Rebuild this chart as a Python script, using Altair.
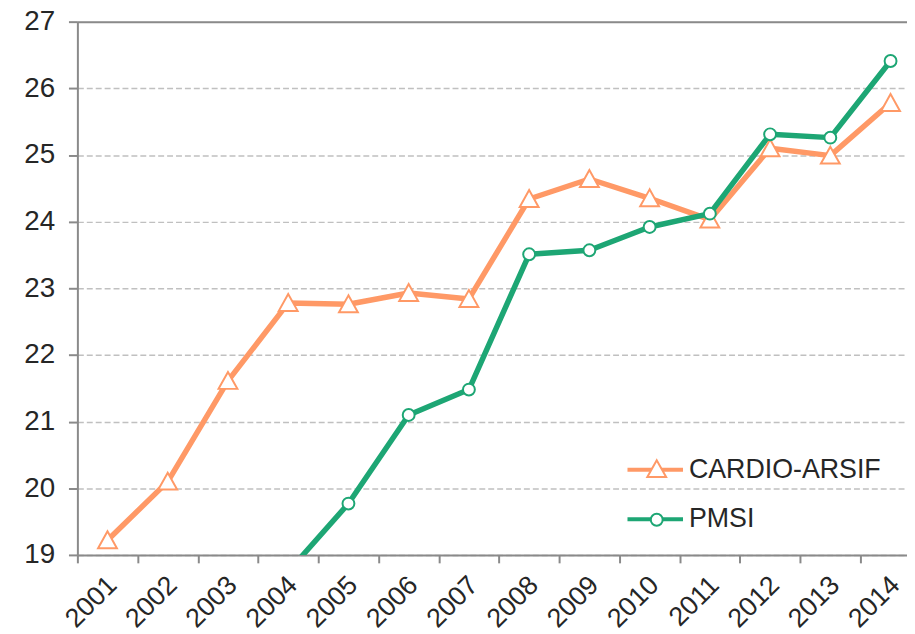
import altair as alt
import pandas as pd

# ---- data ----
years = list(range(2001, 2015))
cardio_values = [19.22, 20.10, 21.61, 22.78, 22.76, 22.93, 22.84, 24.34, 24.64, 24.35, 24.03, 25.10, 24.99, 25.78]
pmsi_years = list(range(2004, 2015))
pmsi_values = [18.75, 19.77, 21.10, 21.48, 23.51, 23.57, 23.92, 24.12, 25.31, 25.26, 26.41]
series_names = ["CARDIO-ARSIF", "PMSI"]
series_colors = ["#FF9966", "#1DA674"]
y_ticks = list(range(19, 28))

rows = []
for yr, v in zip(years, cardio_values):
    rows.append({"series": "CARDIO-ARSIF", "year": yr, "value": v})
for yr, v in zip(pmsi_years, pmsi_values):
    rows.append({"series": "PMSI", "year": yr, "value": v})
df = pd.DataFrame(rows)

FONT = "Liberation Sans"
TEXT = "#262626"
AXIS = "#8a8a8a"

tri_path = "M0,-0.9L-0.95,0.8L0.95,0.8Z"
circ_path = "M0.6,0A0.6,0.6 0 1,1 -0.6,0A0.6,0.6 0 1,1 0.6,0Z"
marker_keys = [s + "_marker" for s in series_names]

x_enc = alt.X(
    "year:Q",
    scale=alt.Scale(domain=[2000.5, 2014.273], nice=False, zero=False),
    axis=alt.Axis(
        title=None,
        values=[y - 0.5 for y in years],
        labelExpr="format(datum.value + 0.5, 'd')",
        labelOffset=35,
        labelAngle=315,
        labelAlign="right",
        labelBaseline="middle",
        labelPadding=18,
        labelFlush=False,
        labelOverlap=False,
        labelFontSize=27,
        labelColor=TEXT,
        labelFont=FONT,
        tickSize=8,
        tickWidth=2,
        tickColor=AXIS,
        domainColor=AXIS,
        domainWidth=2,
        grid=False,
    ),
)

y_enc = alt.Y(
    "value:Q",
    scale=alt.Scale(domain=[19, 27], nice=False, zero=False),
    axis=alt.Axis(
        title=None,
        values=y_ticks,
        format="d",
        labelFontSize=28,
        labelColor=TEXT,
        labelFont=FONT,
        labelPadding=14,
        tickSize=9,
        tickWidth=2,
        tickColor=AXIS,
        domainColor=AXIS,
        domainWidth=2,
        grid=True,
        gridColor={"condition": {"test": "datum.value === 27", "value": AXIS}, "value": "#c0c0c0"},
        gridDash={"condition": {"test": "datum.value === 27", "value": []}, "value": [6, 3]},
        gridWidth={"condition": {"test": "datum.value === 27", "value": 2}, "value": 1.5},
    ),
)

base = alt.Chart(df).encode(x=x_enc, y=y_enc)

line_legend = alt.Legend(
    title=None, orient="none", legendX=553, legendY=422, padding=0,
    symbolType="stroke", symbolSize=3136, symbolStrokeWidth=4,
    labelFontSize=27, labelFont=FONT, labelColor=TEXT, labelOffset=4,
    labelLimit=0, rowPadding=7,
)

lines = base.mark_line(strokeWidth=5.5, clip=True, strokeJoin="round", strokeCap="round").encode(
    color=alt.Color("series:N", scale=alt.Scale(domain=series_names, range=series_colors),
                    legend=line_legend),
)

point_legend = alt.Legend(
    title=None, orient="none", legendX=571, legendY=438, padding=0,
    symbolSize=400, symbolStrokeWidth=2, symbolFillColor="white",
    labelFontSize=27, labelFont=FONT, labelOpacity=0, labelOffset=4,
    labelExpr="''", rowPadding=23,
)

points = (
    base.transform_calculate(marker="datum.series + '_marker'")
    .mark_point(filled=True, fill="white", size=400, strokeWidth=2, opacity=1, clip=True)
    .encode(
        stroke=alt.Stroke("marker:N", scale=alt.Scale(domain=marker_keys, range=series_colors),
                          legend=point_legend),
        shape=alt.Shape("marker:N", scale=alt.Scale(domain=marker_keys, range=[tri_path, circ_path]),
                        legend=point_legend),
    )
)

chart = (
    alt.layer(lines, points)
    .properties(
        width=837,
        height=538,
        autosize=alt.AutoSizeParams(type="none"),
        padding={"left": 70, "top": 11, "right": 0, "bottom": 77},
    )
    .configure_view(stroke=None)
    .configure(background="white")
)

chart.save("out.html", embed_options={"renderer": "svg", "actions": False})
